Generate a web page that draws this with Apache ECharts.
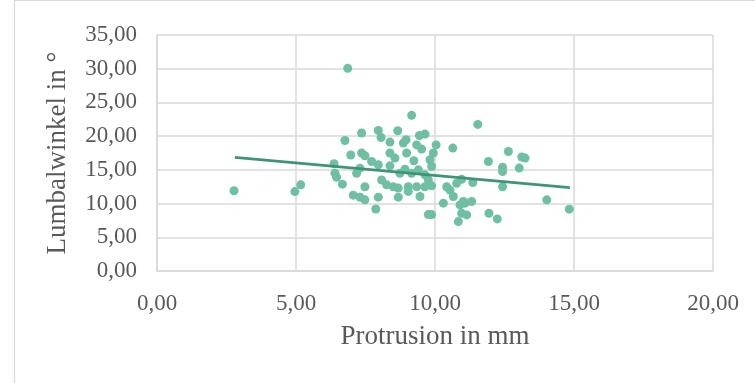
<!DOCTYPE html>
<html>
<head>
<meta charset="utf-8">
<script src="https://cdn.jsdelivr.net/npm/echarts@6/dist/echarts.min.js"></script>
<style>
  html, body { margin: 0; padding: 0; background: #fff; }
  #chart { width: 755px; height: 383px; }
</style>
</head>
<body>
<div id="chart"></div>
<script>
// Protrusion (mm) per case
const protrusion = [
  2.77, 6.86, 9.16, 11.54, 4.96, 5.17, 6.37, 6.40, 6.46, 6.67,
  6.76, 6.97, 7.36, 7.36, 7.48, 7.18, 7.30, 7.48, 7.06, 7.30,
  7.48, 7.87, 7.96, 7.96, 8.06, 8.38, 8.66, 7.72, 7.96, 8.08,
  8.26, 8.38, 8.56, 8.38, 8.68, 8.50, 8.68, 8.74, 8.86, 8.96,
  8.98, 8.92, 9.04, 9.04, 9.16, 9.24, 9.34, 9.52, 9.44, 9.64,
  9.34, 9.46, 9.40, 9.64, 9.64, 9.82, 9.88, 9.94, 10.04, 9.76,
  9.88, 9.76, 9.88, 10.64, 10.42, 10.54, 10.66, 10.30, 10.78, 10.96,
  10.90, 11.08, 11.32, 10.96, 11.14, 10.84, 11.36, 11.92, 11.94, 12.24,
  12.43, 12.43, 12.43, 12.64, 13.03, 13.12, 13.24, 14.02, 14.83, 11.02
];
// Lumbar angle (degrees) per case
const lumbalwinkel = [
  11.90, 30.06, 23.08, 21.74, 11.78, 12.78, 15.90, 14.50, 13.90, 12.88,
  19.36, 17.20, 20.46, 17.50, 17.10, 14.50, 15.25, 12.50, 11.25, 10.95,
  10.55, 9.20, 10.95, 20.85, 19.80, 19.12, 20.80, 16.24, 15.75, 13.50,
  12.78, 17.50, 16.75, 15.60, 10.95, 12.50, 12.30, 14.50, 18.97, 19.47,
  17.50, 15.10, 12.50, 11.80, 14.50, 16.35, 18.70, 18.08, 20.10, 20.30,
  12.50, 11.05, 15.00, 14.26, 12.50, 16.50, 15.50, 17.50, 18.70, 13.50,
  12.63, 8.37, 8.37, 18.23, 12.50, 12.00, 11.05, 10.06, 13.00, 13.60,
  9.80, 10.06, 10.30, 8.57, 8.32, 7.33, 13.12, 16.24, 8.57, 7.73,
  15.40, 14.76, 12.50, 17.73, 15.26, 16.90, 16.75, 10.55, 9.17, 10.30
];
// Linear trend line end points
const trendX = [2.8, 14.85];
const trendY = [16.85, 12.36];

const xTicks = [0, 5, 10, 15, 20];
const yTicks = [0, 5, 10, 15, 20, 25, 30, 35];

const fmt = v => v.toFixed(2).replace('.', ',');
const serif = '"Liberation Serif", "Times New Roman", serif';

const chart = echarts.init(document.getElementById('chart'));
chart.setOption({
  animation: false,
  backgroundColor: '#ffffff',
  graphic: [{
    type: 'rect',
    left: 12, top: -2,
    shape: { width: 760, height: 390 },
    style: { fill: 'none', stroke: '#d9d9d9', lineWidth: 1.2 },
    silent: true
  }],
  grid: { left: 157, right: 42, top: 35, bottom: 112 },
  xAxis: {
    type: 'value',
    min: xTicks[0], max: xTicks[xTicks.length - 1], interval: 5,
    name: 'Protrusion in mm',
    nameLocation: 'middle', nameGap: 52,
    nameTextStyle: { fontFamily: serif, fontSize: 27, color: '#595959' },
    axisLine: { show: true, lineStyle: { color: '#d9d9d9', width: 1.5 } },
    axisTick: { show: false },
    splitLine: { show: true, lineStyle: { color: '#d9d9d9', width: 1.5 } },
    axisLabel: { formatter: fmt, fontFamily: serif, fontSize: 23, color: '#595959', margin: 21 }
  },
  yAxis: {
    type: 'value',
    min: yTicks[0], max: yTicks[yTicks.length - 1], interval: 5,
    name: 'Lumbalwinkel in °',
    nameLocation: 'middle', nameGap: 86,
    nameTextStyle: { fontFamily: serif, fontSize: 27, color: '#595959' },
    axisLine: { show: true, lineStyle: { color: '#d9d9d9', width: 1.5 } },
    axisTick: { show: false },
    splitLine: { show: true, lineStyle: { color: '#d9d9d9', width: 1.5 } },
    axisLabel: { formatter: fmt, fontFamily: serif, fontSize: 23, color: '#595959', margin: 20 }
  },
  series: [
    {
      type: 'scatter',
      data: protrusion.map((x, i) => [x, lumbalwinkel[i]]),
      symbol: 'circle',
      symbolSize: 9,
      itemStyle: { color: '#6fbfa3', opacity: 1 },
      z: 2
    },
    {
      type: 'line',
      data: trendX.map((x, i) => [x, trendY[i]]),
      symbol: 'none',
      lineStyle: { color: '#3e9478', width: 2.8 },
      z: 3
    }
  ]
});
</script>
</body>
</html>
